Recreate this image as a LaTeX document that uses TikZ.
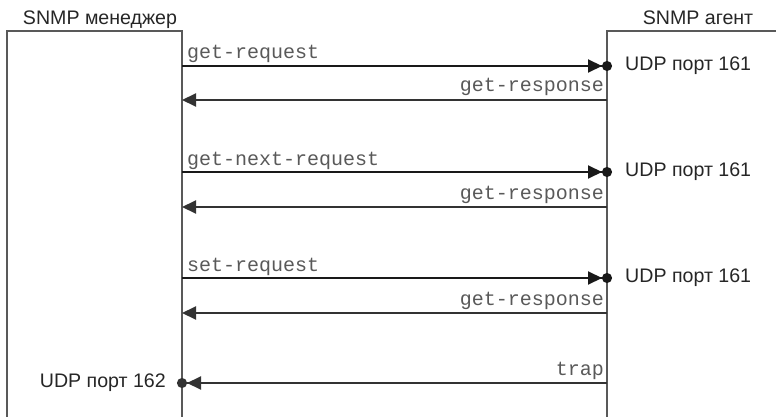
\documentclass[tikz,border=0pt]{standalone}
\usepackage{fontspec}
\setmainfont{Liberation Sans}
\newfontfamily\msgfont{Liberation Mono}
\usetikzlibrary{arrows.meta}
\tikzset{
  lifebox/.style={line width=2.4pt, draw=black!65},
  reqmsg/.style={line width=2pt, draw=black!90, -{Triangle[length=14pt,width=13pt]Circle[length=10pt]}, shorten >=-5pt},
  respmsg/.style={line width=2pt, draw=black!80, -{Triangle[length=14pt,width=13pt]}},
  trapmsg/.style={line width=2pt, draw=black!80, -{Triangle[length=14pt,width=13pt]Circle[length=10pt]}, shorten >=-5pt},
  msglbl/.style={font=\msgfont\fontsize{20}{20}\selectfont, text=black!65, inner sep=0pt},
  portlbl/.style={font=\fontsize{19.6}{20}\selectfont, text=black!85, inner sep=0pt},
  titlelbl/.style={font=\fontsize{19.6}{20}\selectfont, text=black!85, inner sep=0pt},
}
\begin{document}
\begin{tikzpicture}[x=1pt,y=-1pt]
	%%%%% START %%%%%
	\useasboundingbox (0,0) rectangle (776,417);
	
	% lifelines
	\draw[lifebox] (7,417) -- (7,31) -- (182,31) -- (182,417);
	\draw[lifebox] (607,417) -- (607,31) -- (776,31);
	\node[titlelbl, anchor=base] (mgr) at (100,25) {SNMP менеджер};
	\node[titlelbl, anchor=base] (agt) at (698,25) {SNMP агент};
	
	% message points
	\coordinate (m1) at (182,66);  \coordinate (a1) at (607,66);
	\coordinate (m2) at (182,100); \coordinate (a2) at (607,100);
	\coordinate (m3) at (182,172); \coordinate (a3) at (607,172);
	\coordinate (m4) at (182,207); \coordinate (a4) at (607,207);
	\coordinate (m5) at (182,278); \coordinate (a5) at (607,278);
	\coordinate (m6) at (182,313); \coordinate (a6) at (607,313);
	\coordinate (m7) at (182,383); \coordinate (a7) at (607,383);
	
	\draw[reqmsg] (m1) -- (a1);
	\draw[respmsg] (a2) -- (m2);
	\draw[reqmsg] (m3) -- (a3);
	\draw[respmsg] (a4) -- (m4);
	\draw[reqmsg] (m5) -- (a5);
	\draw[respmsg] (a6) -- (m6);
	\draw[trapmsg] (a7) -- (m7);
	
	\node[msglbl, anchor=base west] (l1) at ([xshift=5pt,yshift=7pt]m1) {get-request};
	\node[msglbl, anchor=base east] (l2) at ([xshift=-3pt,yshift=8pt]a2) {get-response};
	\node[msglbl, anchor=base west] (l3) at ([xshift=5pt,yshift=7pt]m3) {get-next-request};
	\node[msglbl, anchor=base east] (l4) at ([xshift=-3pt,yshift=8pt]a4) {get-response};
	\node[msglbl, anchor=base west] (l5) at ([xshift=5pt,yshift=7pt]m5) {set-request};
	\node[msglbl, anchor=base east] (l6) at ([xshift=-3pt,yshift=8pt]a6) {get-response};
	\node[msglbl, anchor=base east] (l7) at ([xshift=-3pt,yshift=8pt]a7) {trap};
	
	\node[portlbl, anchor=west] (p1) at ([xshift=18pt]a1) {UDP порт 161};
	\node[portlbl, anchor=west] (p3) at ([xshift=18pt]a3) {UDP порт 161};
	\node[portlbl, anchor=west] (p5) at ([xshift=18pt]a5) {UDP порт 161};
	\node[portlbl, anchor=east] (p7) at ([xshift=-16pt]m7) {UDP порт 162};
	%%%%% END %%%%%
\end{tikzpicture}
\end{document}
